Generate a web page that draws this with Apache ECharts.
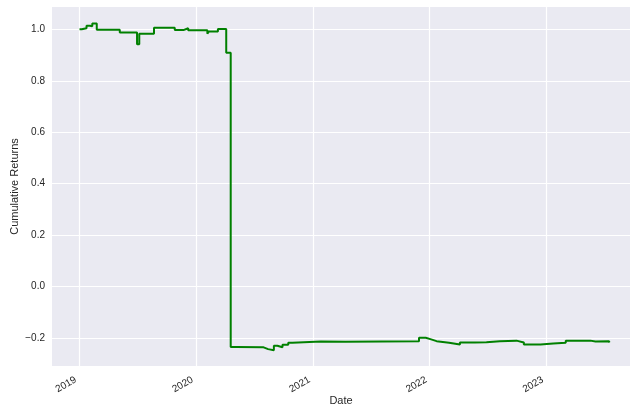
<!DOCTYPE html>
<html>
<head>
<meta charset="utf-8">
<script src="https://cdn.jsdelivr.net/npm/echarts@6/dist/echarts.min.js"></script>
<style>
html,body{margin:0;padding:0;background:#fff;}
#c{width:631px;height:406px;}
</style>
</head>
<body>
<div id="c"></div>
<script>
const dates = [
 '2019-01-02','2019-01-09','2019-01-24','2019-02-04','2019-02-11','2019-02-25',
 '2019-05-08','2019-07-01','2019-07-08','2019-08-23','2019-10-27','2019-11-23',
 '2019-12-08','2020-02-06','2020-02-11','2020-03-10','2020-04-05','2020-04-19',
 '2020-05-06','2020-05-12','2020-07-31','2020-08-14','2020-09-01','2020-09-12',
 '2020-09-28','2020-10-16','2020-10-29','2021-01-26','2021-04-13','2021-11-29',
 '2021-12-20','2022-01-06','2022-01-23','2022-03-03','2022-04-06','2022-05-22',
 '2022-06-28','2022-08-09','2022-09-30','2022-10-23','2022-12-14','2023-01-23',
 '2023-03-03','2023-05-19','2023-06-04','2023-07-16','2023-07-18'
];
const cumulativeReturns = [
 1.000,1.004,1.014,1.012,1.023,0.998,
 0.988,0.942,0.983,1.006,0.997,1.004,
 0.996,0.983,0.992,1.001,0.909,-0.235,
 -0.230,-0.236,-0.243,-0.247,-0.230,-0.236,
 -0.226,-0.218,-0.213,-0.2145,-0.2125,-0.199,
 -0.205,-0.212,-0.218,-0.225,-0.217,-0.216,
 -0.212,-0.210,-0.217,-0.225,-0.221,-0.218,
 -0.210,-0.213,-0.2125,-0.2125,-0.217
];
const xTickLabels = ['2019','2020','2021','2022','2023'];
const yTickValues = [-0.2,0.0,0.2,0.4,0.6,0.8,1.0];

const ts = s => Date.UTC(+s.slice(0,4), +s.slice(5,7)-1, +s.slice(8,10));
const xTicks = xTickLabels.map(y => Date.UTC(+y,0,1));
const seriesData = dates.map((d,i) => [ts(d), cumulativeReturns[i]]);

const chart = echarts.init(document.getElementById('c'), null, {renderer:'canvas'});
const txt = '#262626';
const font = 'Liberation Sans, Arial, sans-serif';
chart.setOption({
  animation:false,
  backgroundColor:'#ffffff',
  grid:{left:52,right:1,top:7,bottom:40,show:true,backgroundColor:'#EAEAF2',borderWidth:0,
        containLabel:false,outerBoundsMode:'none'},
  xAxis:{
    type:'value',
    min:ts('2018-10-08'),
    max:ts('2023-09-20'),
    name:'Date',nameLocation:'middle',nameGap:29,nameMoveOverlap:false,
    nameTextStyle:{color:txt,fontSize:11,fontFamily:font},
    axisLine:{show:false},
    axisTick:{show:false,customValues:xTicks},
    splitLine:{show:true,lineStyle:{color:'#ffffff',width:1.2}},
    axisLabel:{
      customValues:xTicks,rotate:30,margin:11,padding:[0,4,0,0],color:txt,fontSize:10,fontFamily:font,
      formatter:v=>String(new Date(v).getUTCFullYear())
    }
  },
  yAxis:{
    type:'value',min:-0.3086,max:1.0868,
    name:'Cumulative Returns',nameLocation:'middle',nameGap:32,nameMoveOverlap:false,
    nameTextStyle:{color:txt,fontSize:11,fontFamily:font},
    axisLine:{show:false},
    axisTick:{show:false,customValues:yTickValues},
    splitLine:{show:true,lineStyle:{color:'#ffffff',width:1.2}},
    axisLabel:{
      customValues:yTickValues,margin:7,color:txt,fontSize:10,fontFamily:font,
      formatter:v=>(v<0?'\u2212':'')+Math.abs(v).toFixed(1)
    }
  },
  series:[{
    type:'line',data:seriesData,step:'end',showSymbol:false,
    lineStyle:{color:'#008000',width:2},
    itemStyle:{color:'#008000'}
  }]
});
</script>
</body>
</html>
